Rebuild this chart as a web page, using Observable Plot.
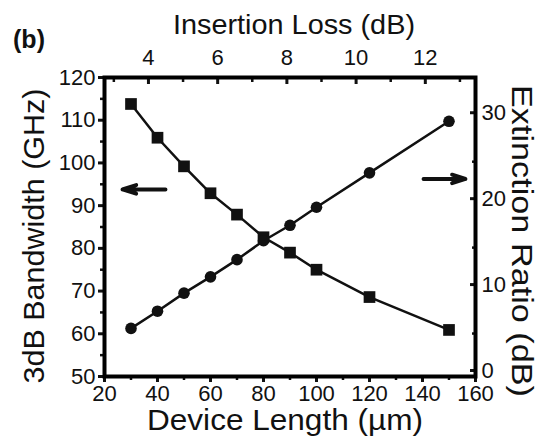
<!DOCTYPE html>
<html>
<head>
<meta charset="utf-8">
<script src="https://cdn.jsdelivr.net/npm/d3@7"></script>
<script src="https://cdn.jsdelivr.net/npm/@observablehq/plot@0.6"></script>
<style>
  html, body { margin: 0; padding: 0; background: #fff; }
  #chart { width: 540px; height: 439px; }
  svg { font-family: "Liberation Sans", Arial, sans-serif; }
</style>
</head>
<body>
<div id="chart"></div>
<script>
// ---- data ----
const deviceLength = [30, 40, 50, 60, 70, 80, 90, 100, 120, 150];           // µm
const bandwidth    = [113.8, 105.9, 99.2, 92.9, 87.9, 82.6, 79.0, 75.0, 68.6, 60.9]; // GHz (left)
const extinction   = [5.6, 7.6, 9.7, 11.6, 13.6, 15.8, 17.6, 19.7, 23.7, 29.7];     // dB (right)

const xTicks = [20, 40, 60, 80, 100, 120, 140, 160];
const xMinor = [30, 50, 70, 90, 110, 130, 150];
const yTicks = [50, 60, 70, 80, 90, 100, 110, 120];
const yMinor = [55, 65, 75, 85, 95, 105, 115];
const erTicks = [0, 10, 20, 30];
const erMinor = [5, 15, 25];
const ilTicks = [4, 6, 8, 10, 12];
const ilMinor = [3, 5, 7, 9, 11, 13];

// axis ranges
const xDomain = [20, 160];
const yDomain = [50, 120];
const erDomain = [0, 34.8];
const ilDomain = [2.73, 13.45];

// arrows (left points to bandwidth axis, right points to extinction axis)
const arrowLeft  = {x1: 43, x2: 26.8, y: 93.8};
const arrowRight = {x1: 140.4, x2: 156.2, er: 23.0};

// ---- mappings of secondary axes onto primary scales ----
const erToY = v => yDomain[0] + (v - erDomain[0]) / (erDomain[1] - erDomain[0]) * (yDomain[1] - yDomain[0]);
const yToEr = y => erDomain[0] + (y - yDomain[0]) / (yDomain[1] - yDomain[0]) * (erDomain[1] - erDomain[0]);
const ilToX = v => xDomain[0] + (v - ilDomain[0]) / (ilDomain[1] - ilDomain[0]) * (xDomain[1] - xDomain[0]);
const xToIl = x => ilDomain[0] + (x - xDomain[0]) / (xDomain[1] - xDomain[0]) * (ilDomain[1] - ilDomain[0]);

const bwData = deviceLength.map((L, i) => ({L, v: bandwidth[i]}));
const erData = deviceLength.map((L, i) => ({L, v: erToY(extinction[i])}));
const arrows = [
  {x1: arrowLeft.x1, x2: arrowLeft.x2, y: arrowLeft.y},
  {x1: arrowRight.x1, x2: arrowRight.x2, y: erToY(arrowRight.er)}
];

const ink = "#111";
const fmt = d => String(Math.round(d));
const blank = () => "";
const tickFont = "'Liberation Sans Narrow', 'Liberation Sans', Arial, sans-serif";

const plot = Plot.plot({
  width: 540,
  height: 439,
  marginLeft: 104,
  marginRight: 65,
  marginTop: 77,
  marginBottom: 63,
  style: {fontSize: "21px", fontFamily: tickFont, color: ink, background: "#fff"},
  x: {domain: xDomain, axis: null},
  y: {domain: yDomain, axis: null},
  marks: [
    // bottom axis
    Plot.axisX({anchor: "bottom", ticks: xTicks, tickSize: 6, tickPadding: 3, strokeWidth: 3, label: null, tickFormat: fmt, fontSize: 22}),
    Plot.axisX({anchor: "bottom", ticks: xMinor, tickSize: 4, strokeWidth: 2.5, label: null, tickFormat: blank}),
    // top axis (insertion loss)
    Plot.axisX({anchor: "top", ticks: ilTicks.map(ilToX), tickSize: -6, tickPadding: 19, strokeWidth: 3, label: null, tickFormat: d => fmt(xToIl(d)), fontSize: 22}),
    Plot.axisX({anchor: "top", ticks: ilMinor.map(ilToX), tickSize: -4, strokeWidth: 2.5, label: null, tickFormat: blank}),
    // left axis (bandwidth)
    Plot.axisY({anchor: "left", ticks: yTicks, tickSize: 6, tickPadding: 3, strokeWidth: 3, label: null, tickFormat: fmt, fontSize: 22}),
    Plot.axisY({anchor: "left", ticks: yMinor, tickSize: 4, strokeWidth: 2.5, label: null, tickFormat: blank}),
    // right axis (extinction ratio)
    Plot.axisY({anchor: "right", ticks: erTicks.map(erToY), tickSize: -6, tickPadding: 12, dy: -6, strokeWidth: 3, label: null, tickFormat: d => fmt(yToEr(d)), fontSize: 22}),
    Plot.axisY({anchor: "right", ticks: erMinor.map(erToY), tickSize: -4, strokeWidth: 2.5, label: null, tickFormat: blank}),
    Plot.frame({stroke: "#000", strokeWidth: 4}),
    // series
    Plot.line(bwData, {x: "L", y: "v", stroke: ink, strokeWidth: 2.5}),
    Plot.line(erData, {x: "L", y: "v", stroke: ink, strokeWidth: 2.5}),
    Plot.dot(bwData, {x: "L", y: "v", symbol: "square", r: 6.6, fill: ink, stroke: "none"}),
    Plot.dot(erData, {x: "L", y: "v", symbol: "circle", r: 5.8, fill: ink, stroke: "none"}),
    // arrows
    Plot.arrow(arrows, {x1: "x1", x2: "x2", y1: "y", y2: "y", stroke: ink, strokeWidth: 4, headLength: 7, headAngle: 35})
  ]
});

const svg = d3.select(plot);
svg.style("overflow", "visible");
const addText = (txt, x, y, opts = {}) => {
  const t = svg.append("text")
    .attr("x", x).attr("y", y)
    .attr("fill", ink)
    .attr("font-family", "'Liberation Sans', Arial, sans-serif")
    .attr("font-size", opts.size || 28)
    .attr("text-anchor", opts.anchor || "middle")
    .text(txt);
  if (opts.bold) t.attr("font-weight", "bold");
  if (opts.rotate) t.attr("transform", `rotate(${opts.rotate}, ${x}, ${y})`);
  if (opts.length) t.attr("textLength", opts.length).attr("lengthAdjust", "spacingAndGlyphs");
  return t;
};
addText("(b)", 29, 48, {size: 25, bold: true});
addText("Insertion Loss (dB)", 294, 34, {size: 28, length: 242});
addText("Device Length (µm)", 285, 430, {size: 29, length: 276});
addText("3dB Bandwidth (GHz)", 44, 236, {size: 29, rotate: -90, length: 295});
addText("Extinction Ratio (dB)", 512, 241, {size: 29, rotate: 90, length: 312});

document.getElementById("chart").appendChild(plot);
</script>
</body>
</html>
